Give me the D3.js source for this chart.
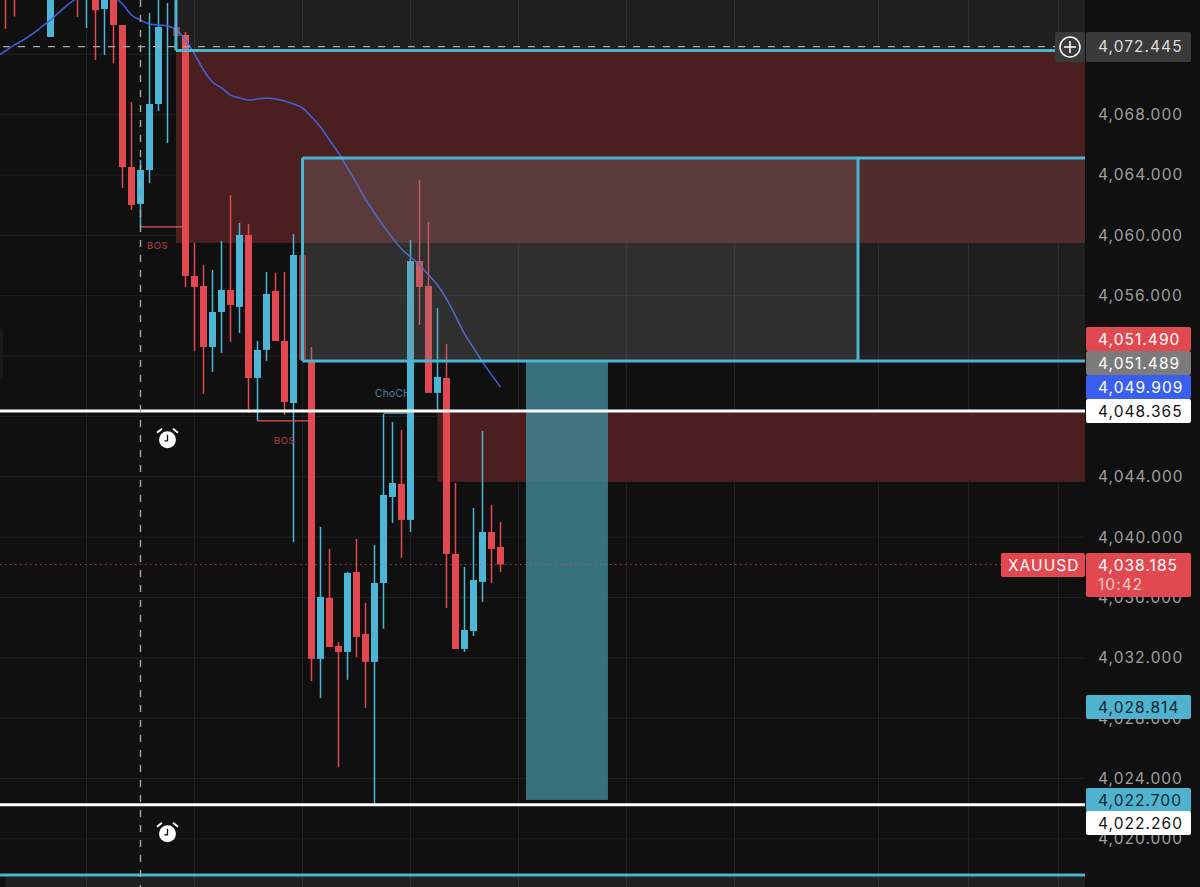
<!DOCTYPE html>
<html>
<head>
<meta charset="utf-8">
<script src="https://cdn.jsdelivr.net/npm/d3@7"></script>
<style>
  html, body { margin: 0; padding: 0; background: #101010; overflow: hidden; }
  svg { display: block; }
  text { font-family: Inter, Roboto, sans-serif; }
</style>
</head>
<body>
<div id="chart"></div>
<script>
// candles (bars above the top edge are rough guesses)
const bars   = [0, 1, 5, 8, 9, 10, 11, 12, 13, 14, 15, 16, 17, 18, 19, 20, 21, 22, 23, 24, 25, 26, 27, 28, 29, 30, 31, 32, 33, 34, 35, 36, 37, 38, 39, 40, 41, 42, 43, 44, 45, 46, 47, 48, 49, 50, 51, 52, 53, 54, 55];
const opens  = [4078, 4078, 4073.15, 4078, 4076, 4077, 4075, 4077, 4073.94, 4064.53, 4062.08, 4064.33, 4068.71, 4073.8, 4073.81, 4073.28, 4057.31, 4056.65, 4052.6, 4054.92, 4056.38, 4055.26, 4060.03, 4050.55, 4052.41, 4056.32, 4053, 4048.89, 4058.7, 4051.74, 4031.93, 4035.97, 4032.79, 4032.39, 4037.69, 4033.58, 4031.73, 4036.96, 4042.66, 4043.53, 4041.14, 4058.3, 4056.65, 4049.56, 4050.55, 4038.89, 4032.59, 4033.78, 4037.03, 4040.34, 4039.35];
const highs  = [4078.5, 4079, 4078, 4078.5, 4077.5, 4077.5, 4077.5, 4078, 4073.94, 4068.84, 4065, 4074.74, 4077, 4075.4, 4073.81, 4073.48, 4059.5, 4058.04, 4057.71, 4059.63, 4062.68, 4060.82, 4060.76, 4053, 4057.57, 4057.51, 4057.57, 4060.09, 4058.7, 4052.6, 4040.68, 4039.22, 4033.05, 4037.69, 4039.88, 4035.64, 4039.48, 4048.16, 4047.63, 4047.1, 4059.7, 4063.67, 4060.89, 4055.19, 4052.8, 4043.59, 4038.03, 4041.94, 4047.04, 4042.13, 4041.01];
const lows   = [4073.7, 4074.5, 4073.15, 4074.47, 4073.74, 4071.62, 4071.96, 4071.42, 4063.14, 4061.68, 4060.56, 4063.47, 4068.24, 4066.12, 4073.21, 4056.58, 4052.34, 4049.49, 4050.95, 4052.21, 4052.94, 4053.53, 4048.23, 4047.7, 4051.68, 4053, 4048.1, 4039.68, 4051.74, 4030.47, 4029.34, 4032.72, 4024.77, 4030.54, 4032.06, 4028.68, 4022.25, 4033.92, 4040.94, 4038.62, 4040.34, 4054.06, 4049.56, 4048.36, 4035.31, 4032.59, 4032.39, 4033.45, 4035.71, 4036.96, 4037.69];
const closes = [4076, 4077, 4077, 4076, 4077, 4074.92, 4077, 4073.94, 4064.53, 4062.01, 4064.33, 4068.71, 4073.81, 4073.8, 4073.21, 4057.31, 4056.58, 4052.6, 4054.92, 4056.38, 4055.39, 4060.03, 4050.55, 4052.41, 4056.12, 4053, 4048.96, 4058.7, 4051.74, 4031.93, 4036.04, 4032.72, 4032.39, 4037.63, 4033.39, 4031.73, 4036.96, 4042.8, 4043.59, 4041.14, 4058.3, 4056.58, 4049.56, 4050.62, 4038.89, 4032.59, 4033.85, 4037.16, 4040.34, 4039.22, 4038.185];
const fadedBars = [19, 33];

// moving average, one value per bar from -1
const maValues = [4071.85, 4072.22, 4072.62, 4072.95, 4073.35, 4073.81, 4074.27, 4074.8, 4075.33, 4075.73, 4076, 4076.13, 4076.06, 4075.8, 4075.33, 4074.61, 4074.27, 4074.01, 4073.94, 4073.88, 4073.61, 4072.95, 4072.02, 4070.96, 4070.17, 4069.77, 4069.3, 4069.11, 4068.97, 4069.04, 4069.11, 4069.04, 4068.91, 4068.71, 4068.44, 4067.85, 4067.18, 4066.32, 4065.46, 4064.47, 4063.47, 4062.41, 4061.48, 4060.62, 4059.83, 4059.1, 4058.57, 4058.04, 4057.38, 4056.71, 4055.79, 4054.66, 4053.47, 4052.54, 4051.61, 4050.75, 4049.95];

const priceTicks = [4020, 4024, 4028, 4032, 4036, 4040, 4044, 4048, 4052, 4056, 4060, 4064, 4068, 4072];
// these tick labels sit fully behind price badges in the original
const hiddenTickLabels = [4048, 4052, 4072];
const timeGridBars = [9, 21, 33, 45, 57, 69, 81, 97, 107, 117];

// zones and levels
const whiteLevels = [4048.365, 4022.26];
const crosshairPrice = 4072.445;
const crosshairBar = 15;
const lastPrice = 4038.185;
const alarmBar = 18;
const alarmPrices = [4046.45, 4020.34];

const colors = {
  bg: "#101010", grid: "#212121", up: "#4db6d6", down: "#e2484f", line: "#4bb4d1",
  ma: "#3f62e0", red: "#4b1f20", axis: "#9f9f9f"
};

const W = 1200, H = 887, plotRight = 1085;

const x = d3.scaleLinear().domain([0, 55]).range([5.5, 500.5]);
const y = d3.scaleLinear().domain([4075.6, 4016.81]).range([0, H]);

const svg = d3.select("#chart").append("svg").attr("width", W).attr("height", H);
svg.append("rect").attr("width", W).attr("height", H).attr("fill", colors.bg);

// faint tab on left edge
svg.append("rect").attr("x", -6).attr("y", 328).attr("width", 9).attr("height", 50).attr("rx", 4).attr("fill", "#1a1a1a");

// grid
const grid = svg.append("g").attr("stroke", colors.grid).attr("stroke-width", 1);
grid.selectAll(".h").data(priceTicks).enter().append("line")
  .attr("x1", 0).attr("x2", plotRight).attr("y1", d => y(d)).attr("y2", d => y(d));
grid.selectAll(".v").data(timeGridBars).enter().append("line")
  .attr("x1", d => x(d)).attr("x2", d => x(d)).attr("y1", 0).attr("y2", H);

// red zones sit under the candles
function zone(fromBar, toBar, top, bottom, fill, opacity) {
  return svg.append("rect")
    .attr("x", x(fromBar)).attr("width", (toBar === null ? plotRight : x(toBar)) - x(fromBar))
    .attr("y", y(top)).attr("height", y(bottom) - y(top))
    .attr("fill", fill).attr("opacity", opacity === undefined ? 1 : opacity);
}
zone(18.94, null, 4072.2, 4059.5, colors.red);
zone(48, null, 4048.3, 4043.66, colors.red);

// ChoCH text goes behind the candles
svg.append("text").attr("x", 375).attr("y", y(4049.3))
  .attr("font-size", 10).attr("letter-spacing", 0.4).attr("fill", "#4c8ea3").text("ChoCH");

// candles
const candles = bars.map((b, i) => ({ b, o: opens[i], h: highs[i], l: lows[i], c: closes[i] }));
const candle = svg.append("g").selectAll("g").data(candles).enter().append("g")
  .attr("opacity", d => fadedBars.includes(d.b) ? 0.62 : 1)
  .attr("fill", d => d.c >= d.o ? colors.up : colors.down)
  .attr("stroke", d => d.c >= d.o ? colors.up : colors.down);
candle.append("line")
  .attr("x1", d => x(d.b)).attr("x2", d => x(d.b))
  .attr("y1", d => y(d.h)).attr("y2", d => y(d.l))
  .attr("stroke-width", 1.5);
candle.append("rect")
  .attr("x", d => x(d.b) - 3.5).attr("width", 7)
  .attr("y", d => y(Math.max(d.o, d.c)))
  .attr("height", d => Math.abs(y(d.o) - y(d.c)))
  .attr("stroke", "none");

// MA
svg.append("path").datum(maValues)
  .attr("fill", "none").attr("stroke", colors.ma).attr("stroke-width", 1.5)
  .attr("d", d3.line().x((d, i) => x(i - 1)).y(d => y(d)).curve(d3.curveMonotoneX));

// translucent boxes go over the candles
zone(18.94, null, 4076, 4072.25, "#ffffff", 0.07);
zone(33, 94.72, 4065.13, 4051.68, "#808080", 0.28);
zone(94.72, null, 4065.13, 4051.68, "#797979", 0.15);
zone(57.83, 66.94, 4051.61, 4022.58, "#40889b", 0.8);
zone(0, null, 4017.6, 4016.8, "#ffffff", 0.07);

// box outlines
const border = svg.append("g").attr("stroke", colors.line).attr("stroke-width", 3).attr("fill", "none");
function segment(x1, y1, x2, y2) {
  border.append("line").attr("x1", x1).attr("y1", y1).attr("x2", x2).attr("y2", y2);
}
segment(x(18.94), 0, x(18.94), y(4072.25));
segment(x(18.94), y(4072.25), 1055, y(4072.25));
segment(x(33), y(4065.13), plotRight, y(4065.13));
segment(x(33), y(4051.68), plotRight, y(4051.68));
segment(x(33), y(4065.13), x(33), y(4051.68));
segment(x(94.72), y(4065.13), x(94.72), y(4051.68));
segment(0, y(4017.6), plotRight, y(4017.6));

// structure marks
const marks = svg.append("g").attr("stroke-width", 1.2);
marks.append("line").attr("x1", x(15)).attr("x2", x(20)).attr("y1", y(4060.56)).attr("y2", y(4060.56)).attr("stroke", "#e5575c");
marks.append("line").attr("x1", x(28)).attr("x2", x(34)).attr("y1", y(4047.7)).attr("y2", y(4047.7)).attr("stroke", "#e5575c");
marks.append("line").attr("x1", x(42)).attr("x2", x(45)).attr("y1", y(4048.22)).attr("y2", y(4048.22)).attr("stroke", colors.up);
const bos = svg.append("g").attr("font-size", 9.5).attr("letter-spacing", 0.5).attr("fill", "#b94045");
bos.append("text").attr("x", 147).attr("y", y(4059.1)).text("BOS");
bos.append("text").attr("x", 274).attr("y", y(4046.2)).text("BOS");

// last price dotted line
svg.append("line").attr("x1", 0).attr("x2", 1001).attr("y1", y(lastPrice)).attr("y2", y(lastPrice))
  .attr("stroke", colors.down).attr("stroke-width", 1).attr("stroke-dasharray", "1.5,3.5").attr("opacity", 0.75);

// white levels
svg.append("g").selectAll("line").data(whiteLevels).enter().append("line")
  .attr("x1", 0).attr("x2", plotRight).attr("y1", d => y(d)).attr("y2", d => y(d))
  .attr("stroke", "#ffffff").attr("stroke-width", 3);

// crosshair, horizontal leg sits a pixel above its price in the original
const cross = svg.append("g").attr("stroke", "#a8a8a8").attr("stroke-width", 1.4).attr("stroke-dasharray", "7,8");
cross.append("line").attr("x1", x(crosshairBar)).attr("x2", x(crosshairBar)).attr("y1", 0).attr("y2", H);
cross.append("line").attr("x1", 3).attr("x2", 1055).attr("y1", y(crosshairPrice) - 1).attr("y2", y(crosshairPrice) - 1);

// alarm icons
alarmPrices.forEach(p => {
  const g = svg.append("g").attr("transform", `translate(${x(alarmBar)},${y(p)})`);
  g.append("circle").attr("r", 8.5).attr("fill", "#ffffff");
  g.append("path").attr("d", "M0,-5V1H-3").attr("fill", "none").attr("stroke", "#111").attr("stroke-width", 1.3);
  g.append("path").attr("d", "M-10.5,-7L-5.5,-11M10.5,-7L5.5,-11").attr("fill", "none").attr("stroke", "#fff").attr("stroke-width", 2);
});

// price axis
const axis = svg.append("g")
  .attr("transform", `translate(${plotRight},0)`)
  .call(d3.axisRight(y)
    .tickValues(priceTicks.filter(d => !hiddenTickLabels.includes(d)))
    .tickSize(0).tickPadding(13).tickFormat(d3.format(",.3f")));
axis.select(".domain").remove();
axis.selectAll("text").attr("fill", colors.axis).attr("font-size", 15.5).attr("letter-spacing", 1.05)
  .style("font-family", "Inter, Roboto, sans-serif");

// price badges
const badgeLabels = ["4,051.490", "4,051.489", "4,049.909", "4,048.365", "4,028.814", "4,022.700", "4,022.260"];
const badgeTops   = [327, 351, 375, 399, 695, 788, 811];
const badgeFills  = [colors.down, "#7b7b7b", "#3a5ef0", "#ffffff", "#4fb3d0", "#4fb3d0", "#ffffff"];
const badgeInks   = ["#ffffff", "#ffffff", "#ffffff", "#111111", "#0e2630", "#0e2630", "#111111"];

function badge(left, top, w, h, fill) {
  svg.append("rect").attr("x", left).attr("y", top).attr("width", w).attr("height", h).attr("rx", 2).attr("fill", fill);
}
function badgeText(left, yMid, label, ink) {
  svg.append("text").attr("x", left).attr("y", yMid).attr("dy", "0.36em")
    .attr("font-size", 15.5).attr("letter-spacing", 1.05).attr("fill", ink).text(label);
}

badge(1055, 32, 30, 30, "#3a3a3a");
badge(1086, 32, 105, 30, "#3a3a3a");
badgeText(1098, 46.5, d3.format(",.3f")(crosshairPrice), "#dddddd");
svg.append("circle").attr("cx", 1070).attr("cy", 47).attr("r", 10).attr("fill", "none").attr("stroke", "#fff").attr("stroke-width", 1.5);
svg.append("path").attr("d", "M1064,47H1076M1070,41V53").attr("stroke", "#fff").attr("stroke-width", 1.5);

badgeLabels.forEach((label, i) => {
  badge(1086, badgeTops[i], 105, 24, badgeFills[i]);
  badgeText(1098, badgeTops[i] + 12, label, badgeInks[i]);
});

// current price tag
badge(1001, 553, 84, 24, colors.down);
badgeText(1008, 565, "XAUUSD", "#ffffff");
badge(1086, 553, 105, 44, colors.down);
badgeText(1098, 565, d3.format(",.3f")(lastPrice), "#ffffff");
badgeText(1098, 584, "10:42", "#f3c9cb");
</script>
</body>
</html>
